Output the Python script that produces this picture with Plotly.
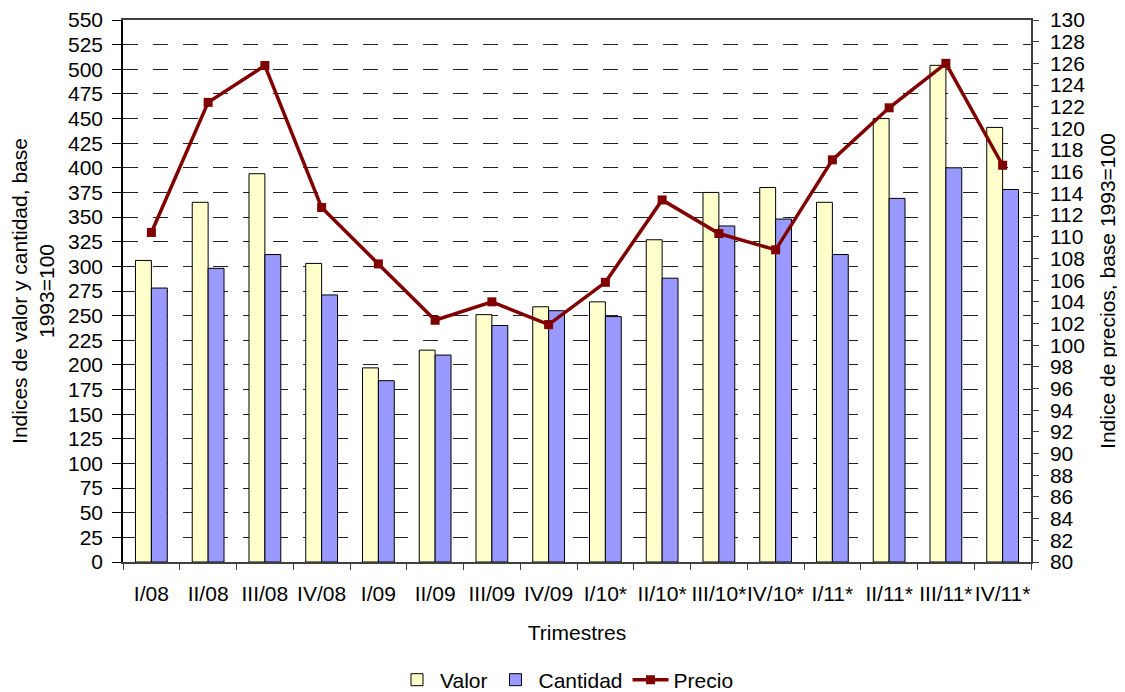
import plotly.graph_objects as go

categories = ["I/08", "II/08", "III/08", "IV/08", "I/09", "II/09", "III/09", "IV/09",
              "I/10*", "II/10*", "III/10*", "IV/10*", "I/11*", "II/11*", "III/11*", "IV/11*"]
valor = [306, 365, 394, 303, 197, 215, 251, 259, 264, 327, 375, 380, 365, 450, 504, 441]
cantidad = [278, 298, 312, 271, 184, 210, 240, 255, 249, 288, 341, 348, 312, 369, 400, 378]
precio = [110.4, 122.4, 125.8, 112.7, 107.5, 102.3, 104.0, 101.9, 105.8, 113.4, 110.3, 108.8,
          117.1, 121.9, 126.0, 116.6]

left_ticks = list(range(0, 551, 25))
right_ticks = list(range(80, 131, 2))

FS = 21
font = dict(family="Liberation Sans, Arial, sans-serif", size=FS, color="black")

fig = go.Figure()
fig.add_trace(go.Bar(x=categories, y=valor, name="Valor",
                     marker=dict(color="#FFFFCC", line=dict(color="black", width=1))))
fig.add_trace(go.Bar(x=categories, y=cantidad, name="Cantidad",
                     marker=dict(color="#9999FF", line=dict(color="black", width=1))))
fig.add_trace(go.Scatter(x=categories, y=precio, name="Precio", yaxis="y2",
                         mode="lines+markers",
                         line=dict(color="#800000", width=3.5),
                         marker=dict(symbol="square", size=9, color="#800000")))

fig.update_layout(
    width=1117, height=684,
    margin=dict(l=115, r=94, t=12, b=130),
    paper_bgcolor="white", plot_bgcolor="white",
    font=font,
    barmode="group", bargap=0.44, bargroupgap=0,
    showlegend=True,
    legend=dict(orientation="h", x=0.5, xanchor="center", xref="container",
                y=0.0175, yanchor="middle", yref="container",
                font=dict(size=FS), traceorder="normal", itemwidth=36),
    xaxis=dict(
        title=dict(text="Trimestres", standoff=21, font=dict(size=FS)),
        type="category", range=[-0.5, len(categories) - 0.5],
        tickson="boundaries", ticks="outside", ticklen=6,
        tickcolor="#404040", showline=True, linecolor="#404040", linewidth=1.5,
        mirror=True, showgrid=False, tickangle=0, tickfont=dict(size=FS),
        ticklabelstandoff=12, automargin=False,
    ),
    yaxis=dict(
        title=dict(text="Indices de valor y cantidad, base<br>1993=100", standoff=9,
                   font=dict(size=FS)),
        range=[0, 550], tickvals=left_ticks, ticks="outside", ticklen=9,
        tickcolor="black", showline=True, linecolor="black", linewidth=1.5,
        showgrid=True, gridcolor="#222222", griddash="15px,15px", gridwidth=1,
        zeroline=False, tickfont=dict(size=FS), ticklabelstandoff=5, automargin=False,
    ),
    yaxis2=dict(
        title=dict(text="Indice de precios, base 1993=100", standoff=16, font=dict(size=FS)),
        overlaying="y", side="right", range=[80, 130], tickvals=right_ticks,
        ticks="outside", ticklen=6, tickcolor="#404040", showline=True,
        linecolor="#404040", linewidth=1.5, showgrid=False, zeroline=False,
        tickfont=dict(size=FS), ticklabelstandoff=7, automargin=False,
    ),
)

fig.write_html("out.html")
